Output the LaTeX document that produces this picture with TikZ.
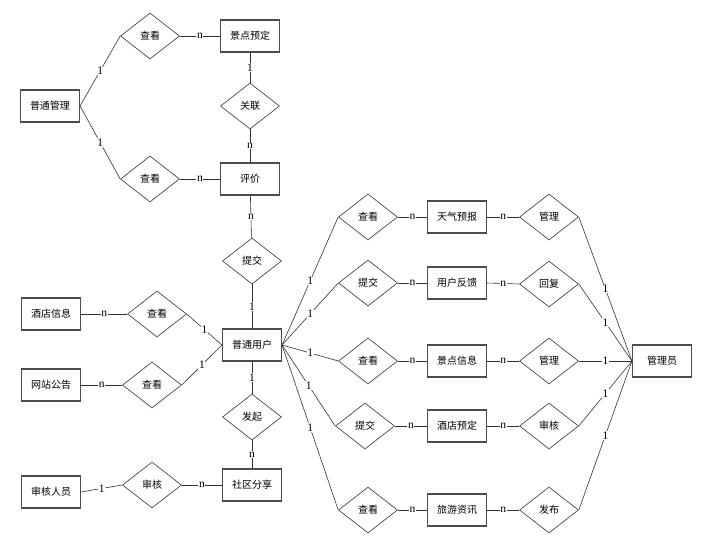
\documentclass[tikz,border=0pt]{standalone}
\usepackage{fontspec}
\newfontfamily\cjk{Noto Sans CJK SC}
\newfontfamily\lblfont{Liberation Serif}
\usetikzlibrary{shapes.geometric, positioning}

\begin{document}
\begin{tikzpicture}[x=1pt, y=-1pt, font=\cjk\fontsize{10}{12}\selectfont]
    \tikzstyle{entity} = [rectangle, draw=black!70, line width=1.1pt, fill=white, minimum width=59pt, minimum height=32pt, inner sep=0pt]
    \tikzstyle{rel} = [diamond, draw=black!80, line width=0.6pt, fill=white, minimum width=59pt, minimum height=46pt, inner sep=0pt]
    \tikzstyle{link} = [draw=black!80, line width=0.6pt]
    \tikzstyle{card} = [fill=white, inner sep=0.6pt, font=\lblfont\fontsize{11.5}{12}\selectfont]

    \useasboundingbox (0,0) rectangle (723,555);

    % left part
    \node (ptgl) [entity] at (50,106) {普通管理};
    \node (ckA) [rel] at (150,36) {查看};
    \node (ckB) [rel] at (150,179) {查看};
    \node (jdyd) [entity] at (250,36) {景点预定};
    \node (gl) [rel] at (250,106) {关联};
    \node (pj) [entity] at (250,179) {评价};
    \node (tjA) [rel] at (252,261) {提交};
    \node (user) [entity] at (252,345) {普通用户};
    \node (jdxx) [entity] at (51,314) {酒店信息};
    \node (ckC) [rel] at (157,314) {查看};
    \node (wzgg) [entity] at (51,385) {网站公告};
    \node (ckD) [rel] at (152,385) {查看};
    \node (fq) [rel] at (252,417) {发起};
    \node (sqfx) [entity] at (252,485) {社区分享};
    \node (shry) [entity] at (51,492) {审核人员};
    \node (shA) [rel] at (152,485) {审核};

    % right part
    \node (ckE) [rel] at (368,217) {查看};
    \node (tqyb) [entity] at (457,217) {天气预报};
    \node (glA) [rel] at (549,217) {管理};
    \node (tjB) [rel] at (368,283) {提交};
    \node (yhfk) [entity] at (457,283) {用户反馈};
    \node (hf) [rel] at (549,284) {回复};
    \node (ckF) [rel] at (368,361) {查看};
    \node (jdxxB) [entity] at (457,361) {景点信息};
    \node (glB) [rel] at (549,361) {管理};
    \node (tjC) [rel] at (365,426) {提交};
    \node (jdydB) [entity] at (457,426) {酒店预定};
    \node (shB) [rel] at (549,426) {审核};
    \node (ckG) [rel] at (368,510) {查看};
    \node (lyzx) [entity] at (457,510) {旅游资讯};
    \node (fb) [rel] at (549,510) {发布};
    \node (gly) [entity] at (662,361) {管理员};

    % connectors, left
    \draw [link] (ptgl.east) -- node[card] {1} (ckA.west);
    \draw [link] (ptgl.east) -- node[card] {1} (ckB.west);
    \draw [link] (ckA) -- node[card] {n} (jdyd);
    \draw [link] (ckB) -- node[card] {n} (pj);
    \draw [link] (jdyd) -- node[card] {1} (gl);
    \draw [link] (gl) -- node[card] {n} (pj);
    \draw [link] (pj) -- node[card] {n} (tjA);
    \draw [link] (tjA) -- node[card] {1} (user);
    \draw [link] (jdxx) -- node[card] {n} (ckC);
    \draw [link] (ckC.east) -- node[card] {1} (user.west);
    \draw [link] (wzgg) -- node[card] {n} (ckD);
    \draw [link] (ckD.east) -- node[card] {1} (user.west);
    \draw [link] (user) -- node[card] {1} (fq);
    \draw [link] (fq) -- node[card] {n} (sqfx);
    \draw [link] (shry.east) -- node[card] {1} (shA.west);
    \draw [link] (shA) -- node[card] {n} (sqfx);

    % connectors, right
    \foreach \d/\e/\r in {ckE/tqyb/glA, tjB/yhfk/hf, ckF/jdxxB/glB, tjC/jdydB/shB, ckG/lyzx/fb} {
        \draw [link] (user.east) -- node[card] {1} (\d.west);
        \draw [link] (\d.east) -- node[card] {n} (\e.west);
        \draw [link] (\e.east) -- node[card] {n} (\r.west);
        \draw [link] (\r.east) -- node[card] {1} (gly.west);
    }
\end{tikzpicture}
\end{document}
